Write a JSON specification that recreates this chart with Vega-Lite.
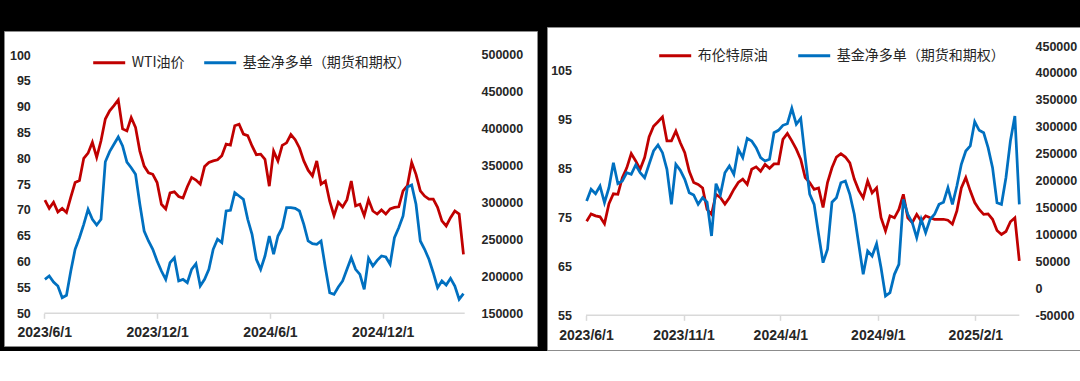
{
  "$schema": "https://vega.github.io/schema/vega-lite/v6.json",
  "background": "black",
  "padding": {"left": 3, "top": 26, "right": 0, "bottom": 0},
  "autosize": {"type": "pad"},
  "config": {
    "view": {"fill": "white", "stroke": "#8c8c8c", "strokeWidth": 1},
    "axis": {"labelFont": "Liberation Sans", "labelFontWeight": "bold", "labelColor": "#262626", "grid": false, "title": null, "domain": false, "ticks": false, "tickSize": 0, "labelPadding": 0, "labelOverlap": false},
    "legend": {"labelFont": "Noto Sans CJK SC", "labelFontSize": 14, "labelColor": "#262626", "padding": 0, "symbolType": "stroke", "symbolSize": 1024, "symbolStrokeWidth": 3, "labelOffset": 5, "labelLimit": 400, "direction": "horizontal", "orient": "none", "title": null}
  },
  "datasets": {
    "oil": [
      {"d":"2023-06-02","wti":71.9,"f1":196000,"brent":74.2,"f2":162300},
      {"d":"2023-06-09","wti":70.3,"f1":200500,"brent":75.7,"f2":184000},
      {"d":"2023-06-16","wti":71.5,"f1":192400,"brent":75.3,"f2":175800},
      {"d":"2023-06-23","wti":69.6,"f1":187000,"brent":75.1,"f2":190100},
      {"d":"2023-06-30","wti":70.3,"f1":171100,"brent":73.7,"f2":159100},
      {"d":"2023-07-07","wti":69.5,"f1":174400,"brent":77.8,"f2":187000},
      {"d":"2023-07-14","wti":72.5,"f1":207300,"brent":79.8,"f2":233400},
      {"d":"2023-07-21","wti":75.3,"f1":236700,"brent":79.7,"f2":194400},
      {"d":"2023-07-28","wti":75.7,"f1":252400,"brent":83.1,"f2":199400},
      {"d":"2023-08-04","wti":80.0,"f1":270600,"brent":85.1,"f2":214800},
      {"d":"2023-08-11","wti":81.0,"f1":290900,"brent":88.0,"f2":211800},
      {"d":"2023-08-18","wti":83.1,"f1":277400,"brent":86.5,"f2":229100},
      {"d":"2023-08-25","wti":80.2,"f1":269700,"brent":84.8,"f2":214800},
      {"d":"2023-09-01","wti":83.4,"f1":277400,"brent":87.2,"f2":205500},
      {"d":"2023-09-08","wti":87.6,"f1":355400,"brent":91.4,"f2":230400},
      {"d":"2023-09-15","wti":89.2,"f1":369000,"brent":93.6,"f2":255100},
      {"d":"2023-09-22","wti":90.2,"f1":379000,"brent":94.5,"f2":266200},
      {"d":"2023-09-29","wti":91.3,"f1":388900,"brent":95.5,"f2":252000},
      {"d":"2023-10-06","wti":85.7,"f1":376700,"brent":90.6,"f2":221100},
      {"d":"2023-10-13","wti":85.3,"f1":355000,"brent":90.6,"f2":156100},
      {"d":"2023-10-20","wti":87.9,"f1":347300,"brent":92.6,"f2":230400},
      {"d":"2023-10-27","wti":86.0,"f1":338300,"brent":90.2,"f2":219200},
      {"d":"2023-11-03","wti":81.4,"f1":297700,"brent":88.2,"f2":202500},
      {"d":"2023-11-10","wti":78.5,"f1":261500,"brent":84.4,"f2":177700},
      {"d":"2023-11-17","wti":77.2,"f1":248000,"brent":82.1,"f2":173400},
      {"d":"2023-11-24","wti":76.9,"f1":236700,"brent":81.7,"f2":156100},
      {"d":"2023-12-01","wti":75.3,"f1":220900,"brent":81.0,"f2":168400},
      {"d":"2023-12-08","wti":71.1,"f1":207300,"brent":76.6,"f2":160000},
      {"d":"2023-12-15","wti":70.2,"f1":196000,"brent":75.6,"f2":97300},
      {"d":"2023-12-22","wti":73.3,"f1":218600,"brent":79.7,"f2":194400},
      {"d":"2023-12-29","wti":73.5,"f1":225300,"brent":79.0,"f2":174700},
      {"d":"2024-01-05","wti":72.6,"f1":193800,"brent":77.7,"f2":214800},
      {"d":"2024-01-12","wti":72.3,"f1":196000,"brent":79.0,"f2":227300},
      {"d":"2024-01-19","wti":74.5,"f1":191500,"brent":80.7,"f2":211800},
      {"d":"2024-01-26","wti":76.3,"f1":209600,"brent":82.1,"f2":258300},
      {"d":"2024-02-02","wti":75.8,"f1":217200,"brent":82.8,"f2":242700},
      {"d":"2024-02-09","wti":75.0,"f1":187000,"brent":81.7,"f2":278700},
      {"d":"2024-02-16","wti":78.4,"f1":196000,"brent":84.8,"f2":273700},
      {"d":"2024-02-23","wti":79.2,"f1":209600,"brent":85.3,"f2":261200},
      {"d":"2024-03-01","wti":79.5,"f1":236700,"brent":84.4,"f2":242700},
      {"d":"2024-03-08","wti":79.7,"f1":250300,"brent":85.8,"f2":236500},
      {"d":"2024-03-15","wti":80.5,"f1":245700,"brent":85.0,"f2":239700},
      {"d":"2024-03-22","wti":82.75,"f1":288600,"brent":85.9,"f2":289100},
      {"d":"2024-03-29","wti":82.55,"f1":289600,"brent":85.9,"f2":293500},
      {"d":"2024-04-05","wti":86.3,"f1":313400,"brent":90.9,"f2":302800},
      {"d":"2024-04-12","wti":86.6,"f1":308900,"brent":92.1,"f2":305800},
      {"d":"2024-04-19","wti":84.7,"f1":304400,"brent":90.6,"f2":334400},
      {"d":"2024-04-26","wti":84.4,"f1":277400,"brent":88.9,"f2":304700},
      {"d":"2024-05-03","wti":82.4,"f1":257000,"brent":86.8,"f2":315800},
      {"d":"2024-05-10","wti":80.7,"f1":223200,"brent":83.1,"f2":242700},
      {"d":"2024-05-17","wti":80.8,"f1":209600,"brent":82.1,"f2":175000},
      {"d":"2024-05-24","wti":79.8,"f1":227600,"brent":80.7,"f2":156000},
      {"d":"2024-05-31","wti":74.6,"f1":254700,"brent":81.0,"f2":100400},
      {"d":"2024-06-07","wti":81.4,"f1":230000,"brent":77.0,"f2":47700},
      {"d":"2024-06-14","wti":79.5,"f1":254700,"brent":82.1,"f2":72600},
      {"d":"2024-06-21","wti":82.5,"f1":266000,"brent":85.1,"f2":160000},
      {"d":"2024-06-28","wti":83.0,"f1":293100,"brent":87.3,"f2":168400},
      {"d":"2024-07-05","wti":84.6,"f1":293100,"brent":88.0,"f2":196200},
      {"d":"2024-07-12","wti":83.6,"f1":292200,"brent":87.3,"f2":199300},
      {"d":"2024-07-19","wti":82.0,"f1":288600,"brent":86.1,"f2":174700},
      {"d":"2024-07-26","wti":79.5,"f1":270600,"brent":82.8,"f2":137600},
      {"d":"2024-08-02","wti":77.7,"f1":248000,"brent":80.5,"f2":81800},
      {"d":"2024-08-09","wti":76.6,"f1":244300,"brent":79.0,"f2":26100},
      {"d":"2024-08-16","wti":79.5,"f1":243500,"brent":82.4,"f2":69400},
      {"d":"2024-08-23","wti":75.0,"f1":248000,"brent":80.0,"f2":60100},
      {"d":"2024-08-30","wti":75.6,"f1":211800,"brent":81.0,"f2":83000},
      {"d":"2024-09-06","wti":71.7,"f1":177900,"brent":74.9,"f2":38400},
      {"d":"2024-09-13","wti":68.9,"f1":175700,"brent":72.2,"f2":-14200},
      {"d":"2024-09-20","wti":71.5,"f1":185600,"brent":75.3,"f2":-8000},
      {"d":"2024-09-27","wti":70.6,"f1":193800,"brent":74.9,"f2":26100},
      {"d":"2024-10-04","wti":72.0,"f1":209600,"brent":76.6,"f2":44700},
      {"d":"2024-10-11","wti":75.6,"f1":225300,"brent":79.7,"f2":165400},
      {"d":"2024-10-18","wti":70.8,"f1":209600,"brent":74.9,"f2":137600},
      {"d":"2024-10-25","wti":71.1,"f1":202800,"brent":73.9,"f2":122000},
      {"d":"2024-11-01","wti":68.9,"f1":182500,"brent":75.6,"f2":94100},
      {"d":"2024-11-08","wti":72.0,"f1":224500,"brent":74.2,"f2":128300},
      {"d":"2024-11-15","wti":69.8,"f1":214100,"brent":75.3,"f2":103400},
      {"d":"2024-11-22","wti":69.2,"f1":221800,"brent":74.9,"f2":128300},
      {"d":"2024-11-29","wti":70.0,"f1":227600,"brent":74.6,"f2":137600},
      {"d":"2024-12-06","wti":69.2,"f1":226300,"brent":74.6,"f2":156100},
      {"d":"2024-12-13","wti":70.2,"f1":216400,"brent":74.6,"f2":160000},
      {"d":"2024-12-20","wti":70.5,"f1":252400,"brent":74.4,"f2":187000},
      {"d":"2024-12-27","wti":70.6,"f1":266000,"brent":73.6,"f2":156100},
      {"d":"2025-01-03","wti":73.7,"f1":281800,"brent":76.3,"f2":190100},
      {"d":"2025-01-10","wti":74.7,"f1":321100,"brent":81.0,"f2":230400},
      {"d":"2025-01-17","wti":79.2,"f1":323800,"brent":83.1,"f2":255100},
      {"d":"2025-01-24","wti":76.9,"f1":297700,"brent":80.4,"f2":264400},
      {"d":"2025-01-31","wti":73.7,"f1":248000,"brent":78.0,"f2":309500},
      {"d":"2025-02-07","wti":72.7,"f1":236700,"brent":76.6,"f2":293500},
      {"d":"2025-02-14","wti":72.1,"f1":223200,"brent":75.6,"f2":289100},
      {"d":"2025-02-21","wti":72.1,"f1":205000,"brent":75.7,"f2":261200},
      {"d":"2025-02-28","wti":70.5,"f1":184700,"brent":74.6,"f2":224100},
      {"d":"2025-03-07","wti":67.9,"f1":193800,"brent":72.3,"f2":159100},
      {"d":"2025-03-14","wti":66.9,"f1":188300,"brent":71.5,"f2":156100},
      {"d":"2025-03-21","wti":68.5,"f1":197400,"brent":72.1,"f2":205500},
      {"d":"2025-03-28","wti":69.8,"f1":187000,"brent":74.1,"f2":273700},
      {"d":"2025-04-04","wti":69.2,"f1":169000,"brent":74.9,"f2":320100},
      {"d":"2025-04-11","wti":61.4,"f1":176600,"brent":66.1,"f2":156100}
    ]
  },
  "data": {"name": "oil"},
  "spacing": 10,
  "center": true,
  "bounds": "flush",
  "resolve": {"scale": {"color": "independent", "x": "independent", "y": "independent"}},
  "hconcat": [
    {
      "width": 533,
      "height": 315,
      "layer": [
        {
          "layer": [
            {
              "mark": {"type": "line", "color": "#C00000", "strokeWidth": 2.75},
              "encoding": {
                "x": {
                  "field": "d", "type": "temporal",
                  "scale": {"type": "utc", "domain": [{"year": 2023, "month": 3, "date": 27, "hours": 15, "utc": true}, {"year": 2025, "month": 8, "date": 8, "hours": 7, "utc": true}]},
                  "axis": {
                    "orient": "bottom", "offset": -32.7,
                    "values": [{"year": 2023, "month": 6, "date": 1, "utc": true}, {"year": 2023, "month": 12, "date": 1, "utc": true}, {"year": 2024, "month": 6, "date": 1, "utc": true}, {"year": 2024, "month": 12, "date": 1, "utc": true}],
                    "labelExpr": "utcFormat(datum.value, '%Y/%-m/%-d')",
                    "labelFontSize": 14, "ticks": true, "tickSize": 5, "tickColor": "#d9d9d9", "tickWidth": 1.5, "labelPadding": 7, "labelFlush": false, "labelOverlap": false
                  }
                },
                "y": {
                  "field": "wti", "type": "quantitative",
                  "scale": {"domain": [43.66, 104.65], "nice": false, "zero": false},
                  "axis": {"orient": "left", "offset": -26.3, "values": [50, 55, 60, 65, 70, 75, 80, 85, 90, 95, 100], "labelFontSize": 12.5, "labelOverlap": false, "labelBound": false, "labelSeparation": 0}
                },
                "color": {
                  "datum": "WTI油价",
                  "scale": {"domain": ["WTI油价", "基金净多单（期货和期权）"], "range": ["#C00000", "#0070C0"]},
                  "legend": {"legendX": 87.7, "legendY": 14, "columnPadding": 13}
                }
              }
            },
            {
              "data": {"values": [{}]},
              "mark": {"type": "rule", "color": "#d9d9d9", "strokeWidth": 1.5},
              "encoding": {
                "x": {"datum": {"year": 2023, "month": 6, "date": 1, "utc": true}, "type": "temporal"},
                "x2": {"datum": {"year": 2025, "month": 4, "date": 13, "utc": true}},
                "y": {"datum": 50, "type": "quantitative", "axis": {"orient": "left", "offset": -26.3, "values": [50, 55, 60, 65, 70, 75, 80, 85, 90, 95, 100], "labelFontSize": 12.5, "labelOverlap": false, "labelBound": false, "labelSeparation": 0}}
              }
            }
          ]
        },
        {
          "mark": {"type": "line", "color": "#0070C0", "strokeWidth": 2.75},
          "encoding": {
            "x": {"field": "d", "type": "temporal"},
            "y": {
              "field": "f1", "type": "quantitative",
              "scale": {"domain": [105690, 532520], "nice": false, "zero": false},
              "axis": {"orient": "right", "offset": -56, "values": [150000, 200000, 250000, 300000, 350000, 400000, 450000, 500000], "labelExpr": "'' + datum.value", "labelFontSize": 12.5, "labelOverlap": false}
            },
            "color": {"datum": "基金净多单（期货和期权）"}
          }
        }
      ],
      "resolve": {"scale": {"y": "independent"}}
    },
    {
      "width": 534,
      "height": 323,
      "layer": [
        {
          "layer": [
            {
              "mark": {"type": "line", "color": "#C00000", "strokeWidth": 2.75},
              "encoding": {
                "x": {
                  "field": "d", "type": "temporal",
                  "scale": {"type": "utc", "domain": [{"year": 2023, "month": 3, "date": 31, "hours": 19, "utc": true}, {"year": 2025, "month": 7, "date": 16, "hours": 19, "utc": true}]},
                  "axis": {
                    "orient": "bottom", "offset": -34.7,
                    "values": [{"year": 2023, "month": 6, "date": 1, "utc": true}, {"year": 2023, "month": 11, "date": 1, "utc": true}, {"year": 2024, "month": 4, "date": 1, "utc": true}, {"year": 2024, "month": 9, "date": 1, "utc": true}, {"year": 2025, "month": 2, "date": 1, "utc": true}],
                    "labelExpr": "utcFormat(datum.value, '%Y/%-m/%-d')",
                    "labelFontSize": 14, "ticks": true, "tickSize": 5, "tickColor": "#d9d9d9", "tickWidth": 1.5, "labelPadding": 8, "labelFlush": false, "labelOverlap": false
                  }
                },
                "y": {
                  "field": "brent", "type": "quantitative",
                  "scale": {"domain": [47.92, 113.84], "nice": false, "zero": false},
                  "axis": {"orient": "left", "offset": -24.5, "values": [55, 65, 75, 85, 95, 105], "labelFontSize": 12.5, "labelOverlap": false}
                },
                "color": {
                  "datum": "布伦特原油",
                  "scale": {"domain": ["布伦特原油", "基金净多单（期货和期权）"], "range": ["#C00000", "#0070C0"]},
                  "legend": {"legendX": 110.7, "legendY": 11, "columnPadding": 24}
                }
              }
            },
            {
              "data": {"values": [{}]},
              "mark": {"type": "rule", "color": "#d9d9d9", "strokeWidth": 1.5},
              "encoding": {
                "x": {"datum": {"year": 2023, "month": 6, "date": 1, "utc": true}, "type": "temporal"},
                "x2": {"datum": {"year": 2025, "month": 4, "date": 11, "utc": true}},
                "y": {"datum": 55, "type": "quantitative", "axis": {"orient": "left", "offset": -24.5, "values": [55, 65, 75, 85, 95, 105], "labelFontSize": 12.5, "labelOverlap": false}}
              }
            }
          ]
        },
        {
          "mark": {"type": "line", "color": "#0070C0", "strokeWidth": 2.75},
          "encoding": {
            "x": {"field": "d", "type": "temporal"},
            "y": {
              "field": "f2", "type": "quantitative",
              "scale": {"domain": [-114440, 485380], "nice": false, "zero": false},
              "axis": {"orient": "right", "offset": -46, "values": [-50000, 0, 50000, 100000, 150000, 200000, 250000, 300000, 350000, 400000, 450000], "labelExpr": "'' + datum.value", "labelFontSize": 12.5, "labelOverlap": false}
            },
            "color": {"datum": "基金净多单（期货和期权）"}
          }
        }
      ],
      "resolve": {"scale": {"y": "independent"}}
    }
  ]
}
